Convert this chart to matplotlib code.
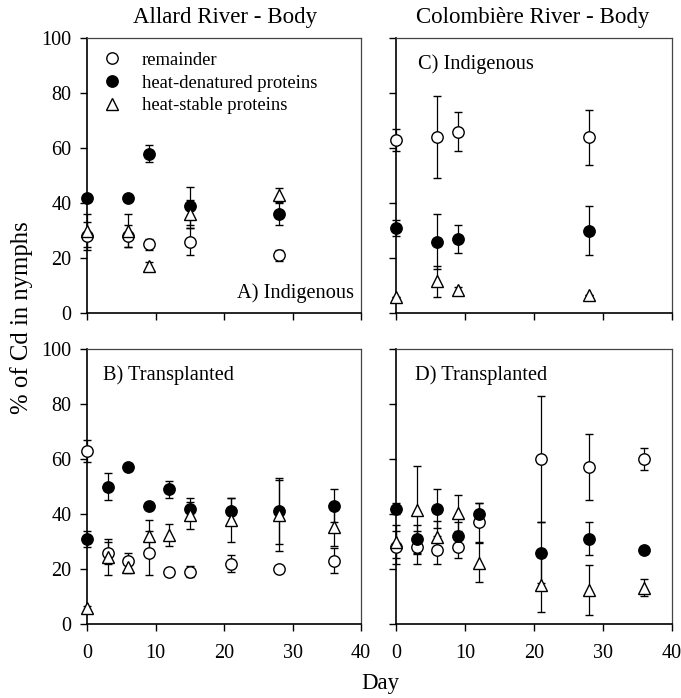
import matplotlib
matplotlib.use("Agg")
import matplotlib.pyplot as plt
import numpy as np

plt.rcParams['font.family'] = ['Liberation Serif', 'DejaVu Serif']

labels = ["remainder", "heat-denatured proteins", "heat-stable proteins"]

# Panel A: Allard River, Indigenous
a_days = [0, 6, 9, 15, 28]
a_rem = [28, 28, 25, 26, 21]
a_rem_err = [5, 4, 2, 5, 2]
a_hdp = [42, 42, 58, 39, 36]
a_hdp_err = [1, 1, 3, 7, 4]
a_hsp = [30, 30, 17, 36, 43]
a_hsp_err = [6, 6, 1.5, 5, 2.5]

# Panel B: Allard River, Transplanted
b_days = [0, 3, 6, 9, 12, 15, 21, 28, 36]
b_rem = [63, 26, 23, 26, 19, 19, 22, 20, 23]
b_rem_err = [4, 4, 3, 8, 1, 2, 3, 1, 4.5]
b_hdp = [31, 50, 57, 43, 49, 42, 41, 41, 43]
b_hdp_err = [3, 5, 1, 1, 3, 4, 5, 12, 6]
b_hsp = [5.7, 24.5, 20.6, 32, 32.4, 39.5, 38, 39.5, 35.4]
b_hsp_err = [1, 6.5, 2, 6, 4, 5, 8, 13, 7]

# Panel C: Colombière River, Indigenous
c_days = [0, 6, 9, 28]
c_rem = [63, 64, 66, 64]
c_rem_err = [4, 15, 7, 10]
c_hdp = [31, 26, 27, 30]
c_hdp_err = [3, 10, 5, 9]
c_hsp = [5.7, 11.5, 8.5, 6.4]
c_hsp_err = [0, 5.5, 1, 0]

# Panel D: Colombière River, Transplanted
d_days = [0, 3, 6, 9, 12, 21, 28, 36]
d_rem = [28, 28, 27, 28, 37, 60, 57, 60]
d_rem_err = [6, 6, 5, 4, 7, 23, 12, 4]
d_hdp = [42, 31, 42, 32, 40, 26, 31, 27]
d_hdp_err = [2, 5, 7, 5, 4, 11, 6, 1]
d_hsp = [30, 41.5, 31.5, 40.5, 22.3, 14.2, 12.4, 13.2]
d_hsp_err = [6, 16, 6, 6.5, 7, 10, 9, 3]

xticks = [0, 10, 20, 30, 40]
yticks = [0, 20, 40, 60, 80, 100]

W, H = 681, 698
fig = plt.figure(figsize=(W / 100, H / 100), dpi=100)

def rect(l, t, r, b):
    return [l / W, 1 - b / H, (r - l) / W, (b - t) / H]

axA = fig.add_axes(rect(87, 38, 361, 313))
axC = fig.add_axes(rect(396, 38, 672, 313))
axB = fig.add_axes(rect(87, 349, 361, 624))
axD = fig.add_axes(rect(396, 349, 672, 624))

def draw(ax, days, rem, rem_e, hdp, hdp_e, hsp, hsp_e):
    common = dict(ecolor='black', elinewidth=0.9, capsize=2.6, capthick=0.9,
                  linestyle='none', markersize=8.2, markeredgewidth=1.0,
                  markeredgecolor='black', clip_on=False)
    h1 = ax.errorbar(days, rem, yerr=rem_e, marker='o', markerfacecolor='white', zorder=3, **common)
    h2 = ax.errorbar(days, hdp, yerr=hdp_e, marker='o', markerfacecolor='black', zorder=3, **common)
    h3 = ax.errorbar(days, hsp, yerr=hsp_e, marker='^', markerfacecolor='white', zorder=3,
                     **{**common, 'markersize': 8.8})
    for h in (h1, h2, h3):
        for art in h.lines[1] + h.lines[2]:
            art.set_clip_on(False)
    ax.set_xlim(0, 40)
    ax.set_ylim(0, 100)
    ax.set_xticks(xticks)
    ax.set_yticks(yticks)
    for s in ('left', 'bottom'):
        ax.spines[s].set_linewidth(1.2)
        ax.spines[s].set_color('black')
    for s in ('top', 'right'):
        ax.spines[s].set_linewidth(0.9)
        ax.spines[s].set_color('#444444')
    ax.tick_params(direction='out', length=5, width=1.0, labelsize=14.5)
    ax.tick_params(axis='y', pad=6)
    ax.tick_params(axis='x', pad=9.5)
    return [h1, h2, h3]

hA = draw(axA, a_days, a_rem, a_rem_err, a_hdp, a_hdp_err, a_hsp, a_hsp_err)
draw(axB, b_days, b_rem, b_rem_err, b_hdp, b_hdp_err, b_hsp, b_hsp_err)
draw(axC, c_days, c_rem, c_rem_err, c_hdp, c_hdp_err, c_hsp, c_hsp_err)
draw(axD, d_days, d_rem, d_rem_err, d_hdp, d_hdp_err, d_hsp, d_hsp_err)

axA.tick_params(labelbottom=False)
axC.tick_params(labelbottom=False, labelleft=False)
axD.tick_params(labelleft=False)

leg = axA.legend([h[0] for h in hA], labels, loc='upper left', frameon=False,
                 bbox_to_anchor=(0.01, 0.99), fontsize=13.4, handletextpad=1.0,
                 labelspacing=0.3, handlelength=1.2, borderaxespad=0.2)

axA.text(0.975, 0.035, "A) Indigenous", transform=axA.transAxes, ha='right', va='bottom', fontsize=14.7)
axC.text(0.08, 0.905, "C) Indigenous", transform=axC.transAxes, ha='left', va='center', fontsize=14.7)
axB.text(0.06, 0.905, "B) Transplanted", transform=axB.transAxes, ha='left', va='center', fontsize=14.7)
axD.text(0.07, 0.905, "D) Transplanted", transform=axD.transAxes, ha='left', va='center', fontsize=14.7)

fig.text(225 / W, 1 - 18 / H, "Allard River - Body", ha='center', va='center', fontsize=16.5)
fig.text(533 / W, 1 - 18 / H, "Colombière River - Body", ha='center', va='center', fontsize=16.5)
fig.text(22 / W, 1 - 318 / H, "% of Cd in nymphs", ha='center', va='center', rotation=90, fontsize=17.8)
fig.text(380 / W, 1 - 684 / H, "Day", ha='center', va='center', fontsize=16.5)

fig.savefig("out.png", dpi=100)
